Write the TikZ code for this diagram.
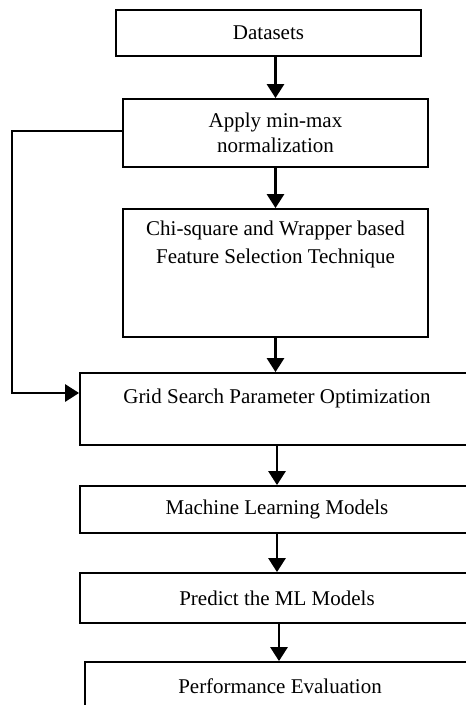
\documentclass[tikz,border=0pt]{standalone}
\usepackage{fontspec}
\setmainfont{Liberation Serif}
\usetikzlibrary{arrows.meta}
\begin{document}
\begin{tikzpicture}[x=1pt,y=-1pt,
  box/.style={draw=black, line width=1.8pt, rectangle, inner sep=0pt, align=center, font=\fontsize{21}{24.5}\selectfont},
  arr/.style={line width=2.8pt, -{Triangle[length=14pt,width=17pt]}}]
\useasboundingbox (0,0) rectangle (466,705);
\clip (0,0) rectangle (466,705);
\node[box, minimum width=305pt, minimum height=46pt] (ds) at (268.5,33) {Datasets};
\node[box, minimum width=305pt, minimum height=68pt] (ap) at (275.5,133) {\raisebox{-3pt}{\parbox{290pt}{\centering Apply min-max\\normalization}}};
\node[box, minimum width=305pt, minimum height=128pt] (chi) at (275.5,273) {\parbox[c][118pt][t]{290pt}{\centering\vspace*{7pt}\fontsize{21}{28}\selectfont Chi-square and Wrapper based\\Feature Selection Technique}};
\node[box, minimum width=394pt, minimum height=72pt] (grid) at (277,409) {\parbox[c][64pt][t]{380pt}{\centering\vspace*{12pt}Grid Search Parameter Optimization}};
\node[box, minimum width=394pt, minimum height=47pt] (ml) at (277,509.5) {Machine Learning Models};
\node[box, minimum width=394pt, minimum height=50pt] (pr) at (277,598) {Predict the ML Models};
\node[box, minimum width=390pt, minimum height=48pt] (pe) at (280,686) {Performance Evaluation};
\coordinate (lft) at (12,131);
\draw[arr] (ap.north |- ds.south) -- (ap.north);
\draw[arr] (ap.south) -- (chi.north);
\draw[arr] (chi.south) -- (chi.south |- grid.north);
\draw[arr] (grid.south) -- (ml.north);
\draw[arr] (ml.south) -- (pr.north);
\draw[arr] ([xshift=2pt]pr.south) -- ([xshift=-1pt]pe.north);
\draw[arr, line join=miter] ([yshift=2pt]ap.west) -- (lft) |- ([yshift=16pt]grid.west);
\end{tikzpicture}
\end{document}
